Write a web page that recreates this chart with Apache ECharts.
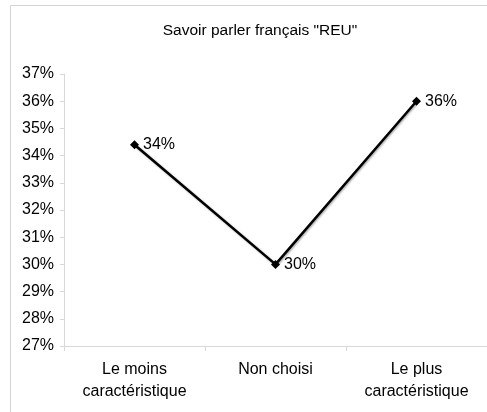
<!DOCTYPE html>
<html><head><meta charset="utf-8">
<script src="https://cdn.jsdelivr.net/npm/echarts@6/dist/echarts.min.js"></script>
<style>html,body{margin:0;padding:0;background:#fff}#c{width:487px;height:412px}</style>
</head><body><div id="c"></div>
<script>
const titleText = 'Savoir parler français "REU"';
const categories = ['Le moins\ncaractéristique', 'Non choisi', 'Le plus\ncaractéristique'];
const values = [34.4, 30.0, 36.0];
const valueLabels = ['34%', '30%', '36%'];
const yMin = 27, yMax = 37, yStep = 1;

const chart = echarts.init(document.getElementById('c'), null, {renderer: 'canvas'});
const font = 'Liberation Sans, Arial, Helvetica, sans-serif';
chart.setOption({
  animation: false,
  textStyle: {fontFamily: font},
  graphic: [{
    type: 'rect', shape: {x: 10.5, y: 5.5, width: 600, height: 600},
    style: {fill: 'none', stroke: '#d4d4d4', lineWidth: 1}, silent: true, z: -1
  }],
  title: {
    text: titleText, left: 255, top: 18, textAlign: 'center',
    textStyle: {fontFamily: font, fontSize: 15.5, fontWeight: 'normal', color: '#000'}
  },
  grid: {left: 64, right: 0, top: 74, bottom: 66, containLabel: false},
  xAxis: {
    type: 'category', data: categories, boundaryGap: true,
    axisLine: {lineStyle: {color: '#d9d9d9', width: 1}},
    axisTick: {show: true, length: 5, lineStyle: {color: '#d9d9d9'}},
    axisLabel: {color: '#000', fontFamily: font, fontSize: 16, lineHeight: 22, margin: 13, interval: 0}
  },
  yAxis: {
    type: 'value', min: yMin, max: yMax, interval: yStep,
    axisLine: {show: true, lineStyle: {color: '#d9d9d9', width: 1}},
    axisTick: {show: true, length: 4, lineStyle: {color: '#d9d9d9'}},
    splitLine: {show: false},
    axisLabel: {color: '#000', fontFamily: font, fontSize: 16, margin: 10, formatter: '{value}%'}
  },
  series: [{
    type: 'line', data: values,
    symbol: 'diamond', symbolSize: 9,
    itemStyle: {color: '#000'},
    lineStyle: {color: '#000', width: 2.5, shadowColor: 'rgba(0,0,0,0.35)', shadowBlur: 2, shadowOffsetX: 1, shadowOffsetY: 1},
    label: {
      show: true, position: 'right', distance: 4, color: '#000', fontFamily: font, fontSize: 16,
      formatter: p => valueLabels[p.dataIndex]
    }
  }]
});
</script></body></html>
